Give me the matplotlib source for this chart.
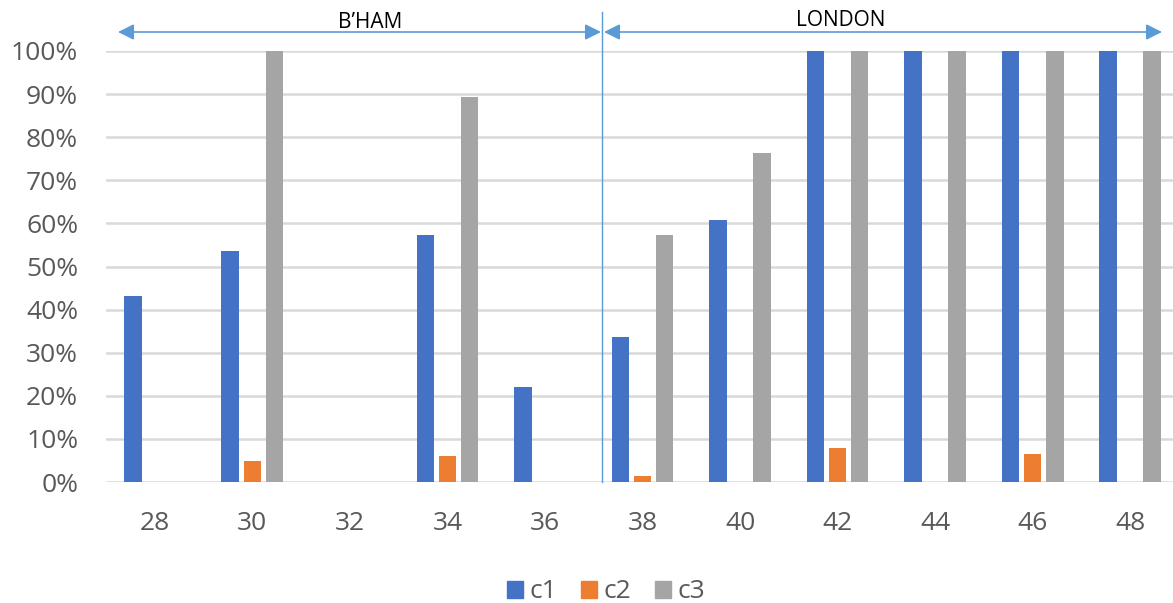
import numpy as np
import matplotlib
matplotlib.use("Agg")
import matplotlib.pyplot as plt
from matplotlib.patches import Patch, FancyArrowPatch

sizes = ["28", "30", "32", "34", "36", "38", "40", "42", "44", "46", "48"]
c1 = [0.432, 0.536, 0.0, 0.572, 0.221, 0.337, 0.609, 1.0, 1.0, 1.0, 1.0]
c2 = [0.0, 0.048, 0.0, 0.060, 0.0, 0.013, 0.0, 0.079, 0.0, 0.065, 0.0]
c3 = [0.0, 1.0, 0.0, 0.894, 0.0, 0.574, 0.763, 1.0, 1.0, 1.0, 1.0]
series = {"c1": c1, "c2": c2, "c3": c3}
colors = {"c1": "#4472C4", "c2": "#ED7D31", "c3": "#A5A5A5"}
split_after = "36"   # B'HAM | LONDON

plt.rcParams['font.family'] = ['Open Sans', 'DejaVu Sans']

W, H = 1173, 603
fig = plt.figure(figsize=(W / 100, H / 100), dpi=100)
ax = fig.add_axes([106 / W, (H - 482) / H, (1179 - 106) / W, (482 - 51) / H])

x = np.arange(len(sizes))
bw = 0.18
step = 0.226
for k, (name, vals) in enumerate(series.items()):
    ax.bar(x + (k - 1) * step, vals, width=bw, color=colors[name], zorder=3, label=name)

ax.set_xlim(-0.5, len(sizes) - 0.5)
ax.set_ylim(0, 1)
ax.set_yticks(np.arange(0, 1.01, 0.1))
ax.set_yticklabels([f"{int(round(v * 100))}%" for v in np.arange(0, 1.01, 0.1)])
ax.set_xticks(x)
ax.set_xticklabels(sizes)
ax.tick_params(axis="both", length=0, labelsize=19, colors="#595959")
ax.tick_params(axis="x", pad=21)
ax.tick_params(axis="y", pad=20)
for s in ax.spines.values():
    s.set_visible(False)
ax.yaxis.grid(True, color="#D9D9D9", lw=1.8, zorder=0)
ax.set_axisbelow(True)

# divider between the two cities
xs = sizes.index(split_after) + 0.58
ax.plot([xs, xs], [0, 1.0 + 39 / 431], color="#5B9BD5", lw=1, clip_on=False, zorder=4)

# city arrows (figure pixels)
def px(xp, yp):
    return (xp / W, (H - yp) / H)

arrow = dict(arrowstyle="<|-|>", color="#5B9BD5", lw=1.2, mutation_scale=24,
             shrinkA=0, shrinkB=0)
fig.add_artist(FancyArrowPatch(px(118, 32), px(601, 32), transform=fig.transFigure, **arrow))
fig.add_artist(FancyArrowPatch(px(604, 32), px(1162, 32), transform=fig.transFigure, **arrow))
fig.text(*px(370, 22), "B\u2019HAM", ha="center", va="center", fontsize=15, color="black")
fig.text(*px(841, 20), "LONDON", ha="center", va="center", fontsize=15, color="black")

handles = [Patch(color=colors[n]) for n in series]
fig.legend(handles, list(series), loc="center", bbox_to_anchor=(606 / W, 11 / H),
           ncol=3, frameon=False, fontsize=19, handlelength=0.6, handleheight=0.6,
           handletextpad=0.25, columnspacing=0.9, labelcolor="#595959")

fig.savefig("out.png", dpi=100)
